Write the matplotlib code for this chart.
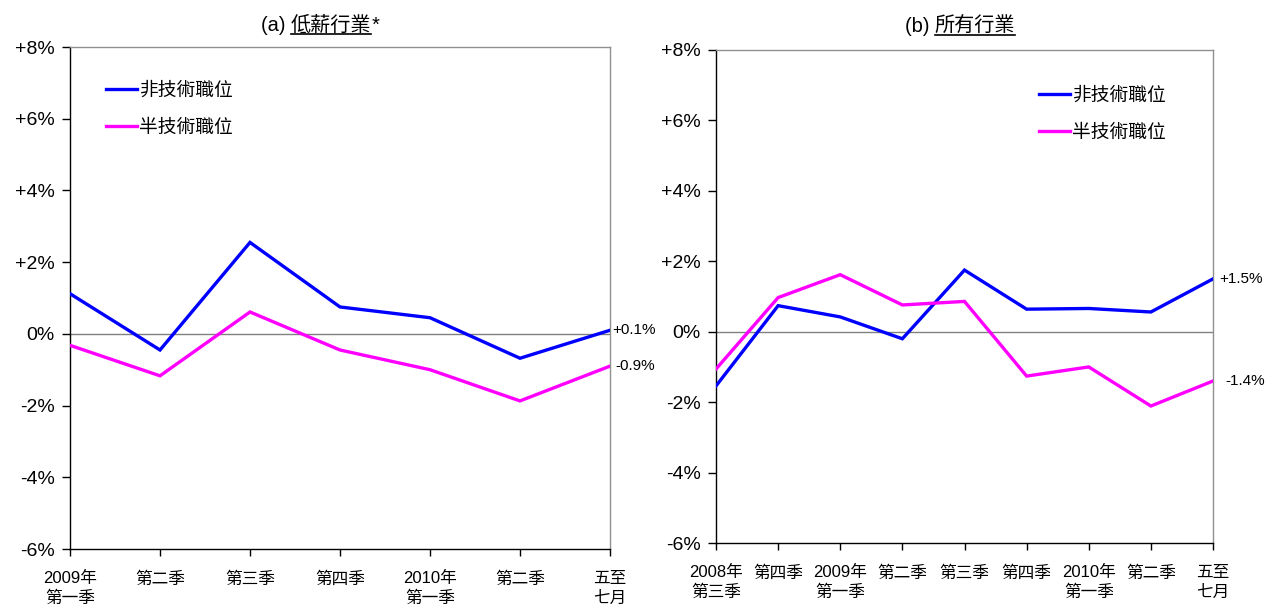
import matplotlib
matplotlib.use("Agg")
import matplotlib.pyplot as plt
from matplotlib.lines import Line2D

plt.rcParams['font.family'] = ['Liberation Sans', 'Noto Sans CJK TC', 'DejaVu Sans']

# ---- data ----
labels_a = ["2009年\n第一季", "第二季", "第三季", "第四季", "2010年\n第一季", "第二季", "五至\n七月"]
nonskill_a = [1.12, -0.45, 2.55, 0.75, 0.45, -0.68, 0.1]
semiskill_a = [-0.32, -1.17, 0.61, -0.45, -1.0, -1.87, -0.9]
end_labels_a = ["+0.1%", "-0.9%"]

labels_b = ["2008年\n第三季", "第四季", "2009年\n第一季", "第二季", "第三季", "第四季", "2010年\n第一季", "第二季", "五至\n七月"]
nonskill_b = [-1.54, 0.74, 0.42, -0.2, 1.75, 0.64, 0.66, 0.56, 1.5]
semiskill_b = [-1.06, 0.97, 1.62, 0.76, 0.86, -1.26, -1.0, -2.11, -1.4]
end_labels_b = ["+1.5%", "-1.4%"]

yticks = [8, 6, 4, 2, 0, -2, -4, -6]
ytick_labels = ["+8%", "+6%", "+4%", "+2%", "0%", "-2%", "-4%", "-6%"]
series_names = ["非技術職位", "半技術職位"]
colors = ["#0000FF", "#FF00FF"]

W, H = 1267, 607
fig = plt.figure(figsize=(W / 100, H / 100), dpi=100)

ax_a = fig.add_axes([70 / W, 1 - 549 / H, (610 - 70) / W, (549 - 47) / H])
ax_b = fig.add_axes([716 / W, 1 - 543 / H, (1213 - 716) / W, (543 - 50) / H])


def style(ax, labels, nonskill, semiskill, end_labels, end_offsets, legend_anchor):
    x = list(range(len(labels)))
    ax.axhline(0, color="#808080", lw=1.0, zorder=1)
    l1, = ax.plot(x, nonskill, color=colors[0], lw=2.4, zorder=3, solid_joinstyle="miter")
    l2, = ax.plot(x, semiskill, color=colors[1], lw=2.4, zorder=3, solid_joinstyle="miter")
    ax.set_xlim(0, len(labels) - 1)
    ax.set_ylim(-6, 8)
    ax.set_yticks(yticks)
    ax.set_yticklabels(ytick_labels, fontsize=14)
    ax.set_xticks(x)
    ax.set_xticklabels(labels, fontsize=12, linespacing=1.38)
    ax.tick_params(axis="y", direction="out", length=6, width=1, pad=5, colors="black")
    ax.tick_params(axis="x", direction="out", length=5, width=1, pad=11, colors="black")
    ax.spines["left"].set_color("black")
    ax.spines["bottom"].set_color("black")
    ax.spines["top"].set_color("#909090")
    ax.spines["right"].set_color("#909090")
    for s in ax.spines.values():
        s.set_linewidth(1.0)
    # end labels
    for val, txt, off in zip([nonskill[-1], semiskill[-1]], end_labels, end_offsets):
        ax.annotate(txt, xy=(x[-1], val), xytext=(off, 0), textcoords="offset pixels",
                    ha="left", va="center", fontsize=11, annotation_clip=False)
    ax.legend([l1, l2], series_names, loc="upper left", bbox_to_anchor=legend_anchor,
              frameon=False, fontsize=13.5, handlelength=1.7, handletextpad=0.1,
              labelspacing=1.05, borderaxespad=0)
    return ax


style(ax_a, labels_a, nonskill_a, semiskill_a, end_labels_a, (2, 5), (28 / 540, 1 - 28 / 502))
style(ax_b, labels_b, nonskill_b, semiskill_b, end_labels_b, (6, 12), (315 / 497, 1 - 30 / 493))

# ---- titles with underlined part ----
fig.canvas.draw()
renderer = fig.canvas.get_renderer()


def title(cx, base_y, prefix, main, suffix, fs=14.5):
    t_pre = fig.text(0, 0, prefix, fontsize=fs, va="baseline")
    t_main = fig.text(0, 0, main, fontsize=fs, va="baseline")
    t_suf = fig.text(0, 0, suffix, fontsize=fs, va="baseline")
    w_pre = t_pre.get_window_extent(renderer).width
    w_main = t_main.get_window_extent(renderer).width
    w_suf = t_suf.get_window_extent(renderer).width if suffix else 0
    total = w_pre + w_main + w_suf
    x0 = cx - total / 2
    t_pre.set_position((x0 / W, 1 - base_y / H))
    t_main.set_position(((x0 + w_pre) / W, 1 - base_y / H))
    t_suf.set_position(((x0 + w_pre + w_main) / W, 1 - base_y / H))
    uy = 1 - (base_y + 3) / H
    fig.add_artist(Line2D([(x0 + w_pre) / W, (x0 + w_pre + w_main) / W], [uy, uy],
                          color="black", lw=1.2, transform=fig.transFigure))


title(320, 31, "(a) ", "低薪行業", "*")
title(960, 32, "(b) ", "所有行業", "")

fig.savefig("out.png", dpi=100)
